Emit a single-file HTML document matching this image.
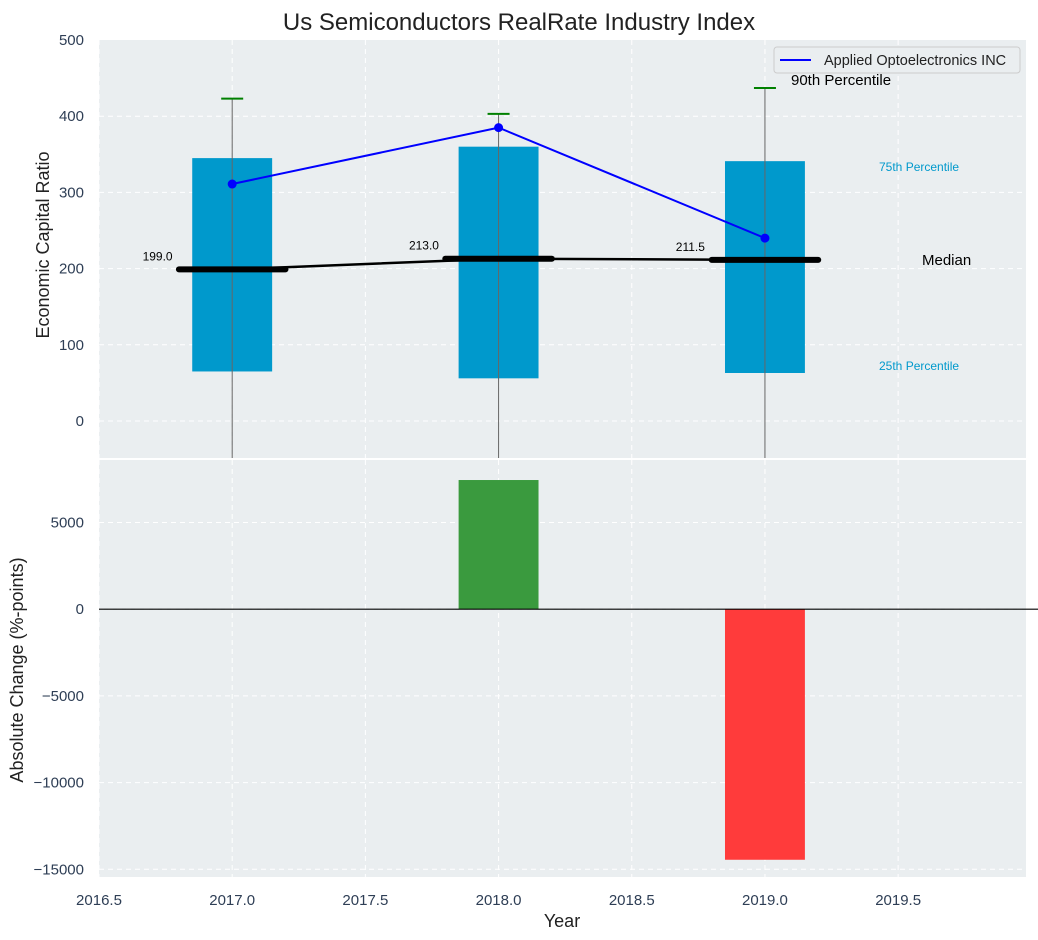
<!DOCTYPE html>
<html><head><meta charset="utf-8"><style>
body{margin:0;background:#fff;}
svg{display:block;font-family:"Liberation Sans",sans-serif;}
</style></head><body>
<svg id="c" width="1038" height="940"></svg>
<script>
const years=[2017,2018,2019];
const p25=[65,56,63];
const p75=[345,360,341];
const p90=[423,403,437];
const lowWhisker=[-60,-60,-60];
const medians=[199,213,211.5];
const companyVals=[311,385,240];
const changes=[0,7450,-14450];
const yTicksTop=[0,100,200,300,400,500];
const yTicksBot=[-15000,-10000,-5000,0,5000];
const xTicks=[2016.5,2017,2017.5,2018,2018.5,2019,2019.5];

const NS="http://www.w3.org/2000/svg";
const svg=document.getElementById('c');
function el(t,a,parent){const e=document.createElementNS(NS,t);for(const k in a)e.setAttribute(k,a[k]);(parent||svg).appendChild(e);return e;}
const L=99,R=1026;
const x=v=>L+(v-2016.5)*(R-L)/(2019.98-2016.5);
const yT=v=>421-v*0.762;
const yB=v=>609.2-v*86.7/5000;
const TT=40,TB=458,BT=460,BB=877;

let g=el('rect',{x:L,y:TT,width:R-L,height:TB-TT,fill:'#eaeef0'});

g=el('rect',{x:L,y:BT,width:R-L,height:BB-BT,fill:'#eaeef0'});


xTicks.forEach(t=>{
  let l=el('line',{x1:x(t),x2:x(t),y1:TT,y2:TB,stroke:'#fff','stroke-dasharray':'5,4','stroke-width':1});
  
  l=el('line',{x1:x(t),x2:x(t),y1:BT,y2:BB,stroke:'#fff','stroke-dasharray':'5,4','stroke-width':1});
  
  const tx=el('text',{x:x(t),y:905,'text-anchor':'middle','font-size':15,fill:'#2e3e55'});tx.textContent=t.toFixed(1);
  
});
yTicksTop.forEach(t=>{
  if(t<500){const l=el('line',{x1:L,x2:R,y1:yT(t),y2:yT(t),stroke:'#fff','stroke-dasharray':'5,4'});
  }
  const tx=el('text',{x:84,y:yT(t)+5,'text-anchor':'end','font-size':15,fill:'#2e3e55'});tx.textContent=t;
  
});
yTicksBot.forEach(t=>{
  const l=el('line',{x1:L,x2:R,y1:yB(t),y2:yB(t),stroke:'#fff','stroke-dasharray':'5,4'});
  
  const tx=el('text',{x:84,y:yB(t)+5,'text-anchor':'end','font-size':15,fill:'#2e3e55'});tx.textContent=t<0?'\u2212'+(-t):t;
  
});

years.forEach((yr,i)=>{
  let r=el('rect',{x:x(yr-0.15),y:yT(p75[i]),width:x(yr+0.15)-x(yr-0.15),height:yT(p25[i])-yT(p75[i]),fill:'#0099cc'});
  
  let w=el('line',{x1:x(yr),x2:x(yr),y1:yT(p90[i]),y2:Math.min(TB,yT(lowWhisker[i])),stroke:'#666','stroke-width':1});
  
  let c=el('line',{x1:x(yr)-11,x2:x(yr)+11,y1:yT(p90[i]),y2:yT(p90[i]),stroke:'green','stroke-width':2});
  
});
let pts=years.map((yr,i)=>x(yr)+','+yT(medians[i])).join(' ');
let ml=el('polyline',{points:pts,fill:'none',stroke:'#000','stroke-width':2.5});

years.forEach((yr,i)=>{
  let m=el('line',{x1:x(yr-0.2),x2:x(yr+0.2),y1:yT(medians[i]),y2:yT(medians[i]),stroke:'#000','stroke-width':6,'stroke-linecap':'round'});
  
  let t=el('text',{x:x(yr-0.28),y:yT(medians[i])-9,'text-anchor':'middle','font-size':12,fill:'#000'});t.textContent=medians[i].toFixed(1);
  
});
pts=years.map((yr,i)=>x(yr)+','+yT(companyVals[i])).join(' ');
let cl=el('polyline',{points:pts,fill:'none',stroke:'#0000ff','stroke-width':2});

years.forEach((yr,i)=>{
  const d=el('circle',{cx:x(yr),cy:yT(companyVals[i]),r:4.5,fill:'#0000ff'});
  
});
[['90th Percentile',791,85,15,'#000','p90-annotation'],['75th Percentile',879,171,12,'#0099cc','p75-annotation'],['Median',922,265,15,'#000','median-annotation'],['25th Percentile',879,370,12,'#0099cc','p25-annotation']].forEach(a=>{
  const t=el('text',{x:a[1],y:a[2],'font-size':a[3],fill:a[4]});t.textContent=a[0];
  
});
let lg=el('g',{});

el('rect',{x:774,y:47,width:246,height:26,rx:3,fill:'#eaeef0',stroke:'#ccc'},lg);
el('line',{x1:780,x2:811,y1:60,y2:60,stroke:'#0000ff','stroke-width':2},lg);
let lt=el('text',{x:824,y:65,'font-size':14.5,fill:'#222'},lg);lt.textContent='Applied Optoelectronics INC';

years.forEach((yr,i)=>{
  if(changes[i]===0)return;
  const y0=yB(0),y1=yB(changes[i]);
  const b=el('rect',{x:x(yr-0.15),y:Math.min(y0,y1),width:x(yr+0.15)-x(yr-0.15),height:Math.abs(y1-y0),fill:changes[i]>0?'#3a9a3e':'#ff3b3b'});
  
});
let z=el('line',{x1:L,x2:1038,y1:yB(0),y2:yB(0),stroke:'#000','stroke-width':1.2});


let t=el('text',{x:519,y:30,'text-anchor':'middle','font-size':24,fill:'#222'});t.textContent='Us Semiconductors RealRate Industry Index';

t=el('text',{x:0,y:0,'text-anchor':'middle','font-size':18,fill:'#222',transform:'translate(49,245) rotate(-90)'});t.textContent='Economic Capital Ratio';

t=el('text',{x:0,y:0,'text-anchor':'middle','font-size':18,fill:'#222',transform:'translate(23,670) rotate(-90)'});t.textContent='Absolute Change (%-points)';

t=el('text',{x:562,y:927,'text-anchor':'middle','font-size':18,fill:'#222'});t.textContent='Year';

</script>
</body></html>
